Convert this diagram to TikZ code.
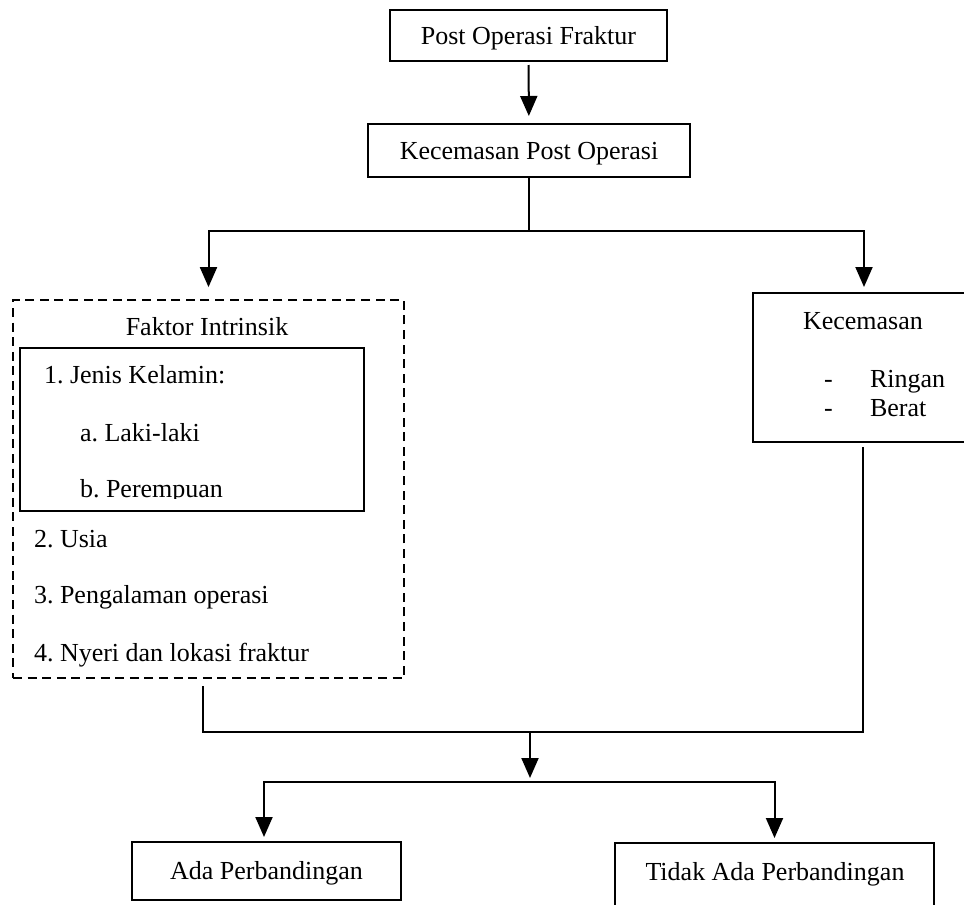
\documentclass[tikz,border=0pt]{standalone}
\usepackage{fontspec}
\setmainfont{Liberation Serif}
\frenchspacing
\usetikzlibrary{positioning,calc,arrows.meta}

\begin{document}
\begin{tikzpicture}[x=0.5pt, y=-0.5pt, >={Triangle[length=10pt,width=8.5pt]}, line width=1pt,
    every node/.style={font=\fontsize{13}{15.6}\selectfont},
    box/.style={draw, line width=1pt, inner sep=0pt, text height=8.6pt, text depth=0pt},
    dashbox/.style={draw, line width=0.9pt, dash pattern=on 4.5pt off 2.8pt, inner sep=0pt},
    txt/.style={inner sep=0pt, anchor=base west}]
    \clip (0,0) rectangle (964,905);
    % top boxes
    \node[box, minimum width=138.5pt, minimum height=25.5pt] (post) at (528.5,35.5) {Post Operasi Fraktur};
    \node[box, minimum width=161pt, minimum height=26.5pt] (kecpo) at (529,150.5) {Kecemasan Post Operasi};
    \draw[->, shorten <=1.5pt, shorten >=3.5pt] (post) -- (kecpo);
    % faktor intrinsik
    \node[dashbox, minimum width=195.5pt, minimum height=189pt] (faktor) at (208.5,489) {};
    \node[box, minimum width=172pt, minimum height=81.5pt] (jenis) at (192,429.5) {};
    \node[inner sep=0pt, anchor=base] (fakjudul) at (207,335) {Faktor Intrinsik};
    \node[txt] (jk) at (43,383) {1. Jenis Kelamin:};
    \node[txt] (laki) at (79,441) {a. Laki-laki};
    \begin{scope}
      \clip (20,348) rectangle (364,498);
      \node[txt] (perem) at (79,497) {b. Perempuan};
    \end{scope}
    \node[txt] (usia) at (33,547) {2. Usia};
    \node[txt] (pengal) at (33,603) {3. Pengalaman operasi};
    \node[txt] (nyeri) at (33,661) {4. Nyeri dan lokasi fraktur};
    % kecemasan
    \node[box, minimum width=111pt, minimum height=74.5pt] (kec) at (864,367.5) {};
    \node[txt] (kecjudul) at (802,329) {Kecemasan};
    \node[txt] (d1) at (823,387) {-};
    \node[txt] (ringan) at (869,387) {Ringan};
    \node[txt] (d2) at (823,416) {-};
    \node[txt] (berat) at (869,416) {Berat};
    % split
    \coordinate (split) at (529,231);
    \draw (kecpo) -- (split);
    \draw[->, shorten >=6pt] (split) -| (faktor.north);
    \draw[->, shorten >=2.5pt] (split) -| (kec.north);
    % join
    \coordinate (fakout) at (203,686);
    \coordinate (kecout) at (863,447);
    \coordinate (joinL) at (203,732);
    \coordinate (joinR) at (863,732);
    \coordinate (join) at (530,732);
    \coordinate (split2) at (530,782);
    \draw (fakout) -- (joinL) -- (joinR) -- (kecout);
    \draw[->, shorten >=2pt] (join) -- (split2);
    % hasil
    \node[box, minimum width=134.5pt, minimum height=29pt] (ada) at (266.5,871) {Ada Perbandingan};
    \node[box, minimum width=159.5pt, minimum height=41pt] (tidak) at (774.5,884) {};
    \node[inner sep=0pt, anchor=base] (tidaktxt) at (775,880) {Tidak Ada Perbandingan};
    \draw[->, shorten >=2pt] (split2) -| ($(ada.north)+(-1.25pt,0)$);
    \draw[->, shorten >=2pt] (split2) -| (tidak.north);
  \end{tikzpicture}
\end{document}
